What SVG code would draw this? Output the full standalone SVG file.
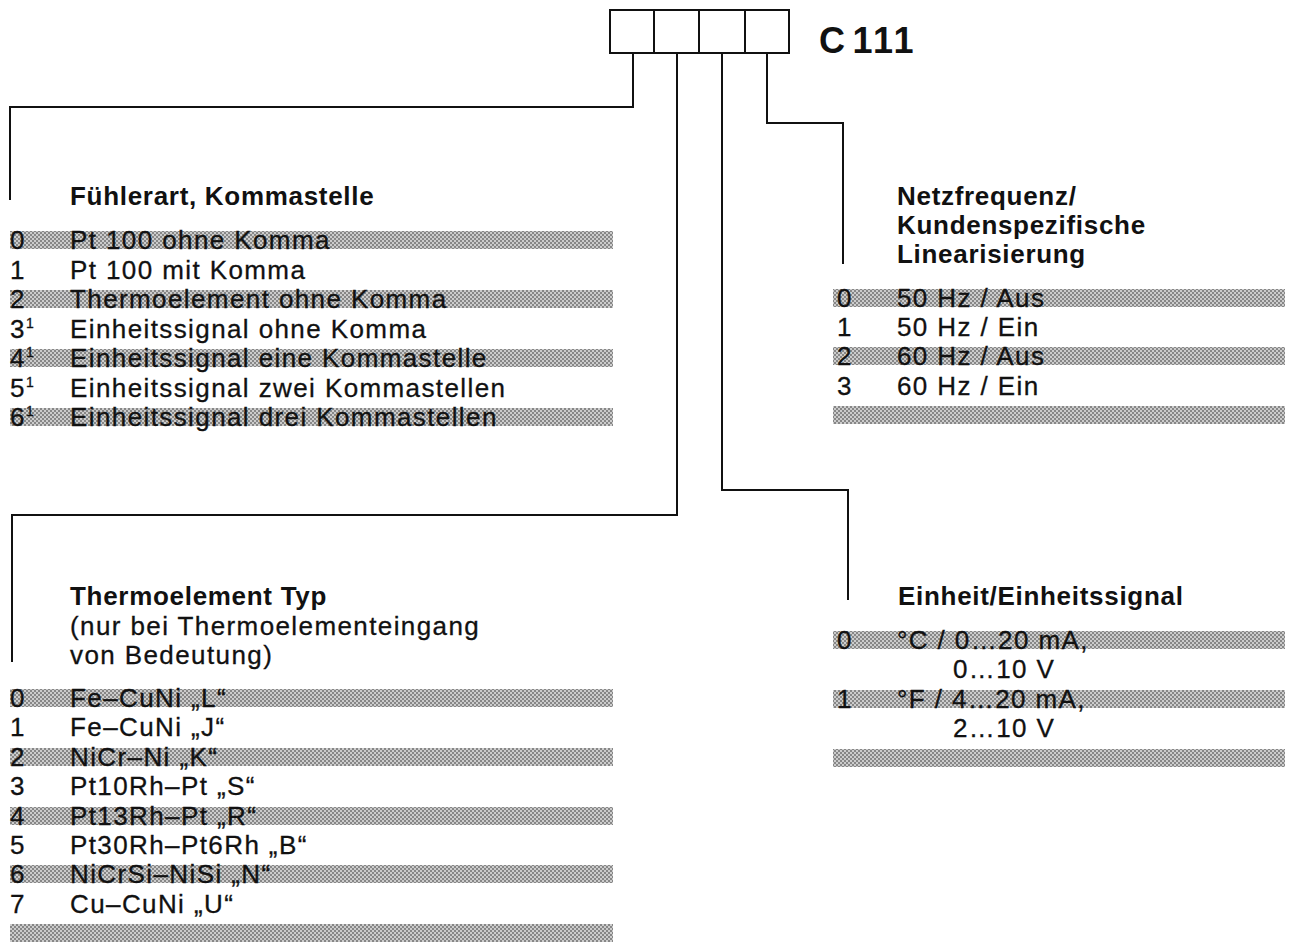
<svg xmlns="http://www.w3.org/2000/svg" width="1292" height="942" viewBox="0 0 1292 942">
<defs>
<pattern id="dots" width="4" height="4" patternUnits="userSpaceOnUse">
<rect width="4" height="4" fill="#cccccc"/>
<circle cx="1" cy="1" r="1" fill="#707070"/>
<circle cx="3" cy="3" r="1" fill="#707070"/>
</pattern>
<style>
text{font-family:"Liberation Sans",Arial,Helvetica,sans-serif;fill:#111;}
.t{font-size:26px;letter-spacing:1.4px;stroke:#111;stroke-width:0.3px;}
.h{font-size:26px;font-weight:bold;letter-spacing:0.7px;}
.sup{font-size:14px;}
.bar{fill:url(#dots);}
.ln{fill:none;stroke:#111;stroke-width:2;}
.box{fill:#fff;stroke:#111;stroke-width:2;}
</style>
</defs>
<rect width="1292" height="942" fill="#fff"/>

<g id="code">
<rect class="box" x="610" y="10" width="44" height="43"/>
<rect class="box" x="654" y="10" width="45" height="43"/>
<rect class="box" x="699" y="10" width="46" height="43"/>
<rect class="box" x="745" y="10" width="44" height="43"/>
<text x="819" y="53" font-size="36" font-weight="bold" letter-spacing="2.5">C<tspan dx="5">111</tspan></text>
</g>

<g id="connectors">
<polyline class="ln" points="633,53 633,107 10,107 10,200"/>
<polyline class="ln" points="677,53 677,515 12,515 12,662"/>
<polyline class="ln" points="722,53 722,490 848,490 848,600"/>
<polyline class="ln" points="767,53 767,123 843,123 843,264"/>
</g>

<g id="fuehlerart">
<rect class="bar" x="10" y="231" width="603" height="18"/>
<rect class="bar" x="10" y="290" width="603" height="18"/>
<rect class="bar" x="10" y="349" width="603" height="18"/>
<rect class="bar" x="10" y="408" width="603" height="18"/>
<text class="h" x="70" y="205">Fühlerart, Kommastelle</text>
<text class="t" x="10" y="249">0</text><text class="t" x="70" y="249">Pt 100 ohne Komma</text>
<text class="t" x="10" y="278.5">1</text><text class="t" x="70" y="278.5">Pt 100 mit Komma</text>
<text class="t" x="10" y="308">2</text><text class="t" x="70" y="308">Thermoelement ohne Komma</text>
<text class="t" x="10" y="337.5">3<tspan class="sup" dy="-10">1</tspan></text><text class="t" x="70" y="337.5">Einheitssignal ohne Komma</text>
<text class="t" x="10" y="367">4<tspan class="sup" dy="-10">1</tspan></text><text class="t" x="70" y="367">Einheitssignal eine Kommastelle</text>
<text class="t" x="10" y="396.5">5<tspan class="sup" dy="-10">1</tspan></text><text class="t" x="70" y="396.5">Einheitssignal zwei Kommastellen</text>
<text class="t" x="10" y="426">6<tspan class="sup" dy="-10">1</tspan></text><text class="t" x="70" y="426">Einheitssignal drei Kommastellen</text>
</g>

<g id="netzfrequenz">
<rect class="bar" x="833" y="289" width="452" height="18"/>
<rect class="bar" x="833" y="347" width="452" height="18"/>
<rect class="bar" x="833" y="406" width="452" height="18"/>
<text class="h" x="897" y="205">Netzfrequenz/</text>
<text class="h" x="897" y="234">Kundenspezifische</text>
<text class="h" x="897" y="263">Linearisierung</text>
<text class="t" x="837" y="307">0</text><text class="t" x="897" y="307">50 Hz / Aus</text>
<text class="t" x="837" y="336">1</text><text class="t" x="897" y="336">50 Hz / Ein</text>
<text class="t" x="837" y="365">2</text><text class="t" x="897" y="365">60 Hz / Aus</text>
<text class="t" x="837" y="395">3</text><text class="t" x="897" y="395">60 Hz / Ein</text>
</g>

<g id="thermoelement">
<rect class="bar" x="10" y="689" width="603" height="18"/>
<rect class="bar" x="10" y="748" width="603" height="18"/>
<rect class="bar" x="10" y="807" width="603" height="18"/>
<rect class="bar" x="10" y="865" width="603" height="18"/>
<rect class="bar" x="10" y="924" width="603" height="18"/>
<text class="h" x="70" y="605">Thermoelement Typ</text>
<text class="t" x="70" y="635">(nur bei Thermoelementeingang</text>
<text class="t" x="70" y="664">von Bedeutung)</text>
<text class="t" x="10" y="707">0</text><text class="t" x="70" y="707">Fe–CuNi „L“</text>
<text class="t" x="10" y="736">1</text><text class="t" x="70" y="736">Fe–CuNi „J“</text>
<text class="t" x="10" y="766">2</text><text class="t" x="70" y="766">NiCr–Ni „K“</text>
<text class="t" x="10" y="795">3</text><text class="t" x="70" y="795">Pt10Rh–Pt „S“</text>
<text class="t" x="10" y="825">4</text><text class="t" x="70" y="825">Pt13Rh–Pt „R“</text>
<text class="t" x="10" y="854">5</text><text class="t" x="70" y="854">Pt30Rh–Pt6Rh „B“</text>
<text class="t" x="10" y="883">6</text><text class="t" x="70" y="883">NiCrSi–NiSi „N“</text>
<text class="t" x="10" y="913">7</text><text class="t" x="70" y="913">Cu–CuNi „U“</text>
</g>

<g id="einheit">
<rect class="bar" x="833" y="631" width="452" height="18"/>
<rect class="bar" x="833" y="690" width="452" height="18"/>
<rect class="bar" x="833" y="749" width="452" height="18"/>
<text class="h" x="898" y="605">Einheit/Einheitssignal</text>
<text class="t" x="837" y="649">0</text><text class="t" x="897" y="649">°C / 0…20 mA,</text>
<text class="t" x="953" y="678">0…10 V</text>
<text class="t" x="837" y="708">1</text><text class="t" x="897" y="708">°F / 4…20 mA,</text>
<text class="t" x="953" y="737">2…10 V</text>
</g>
</svg>
